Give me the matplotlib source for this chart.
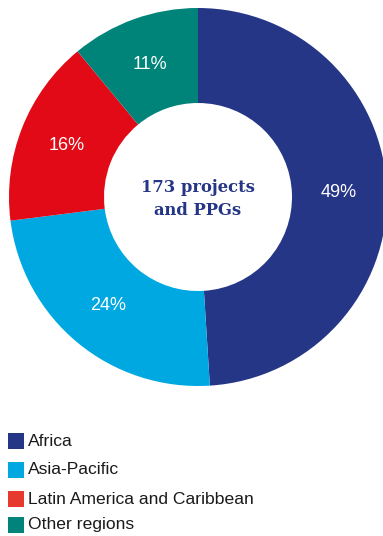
import matplotlib.pyplot as plt
from matplotlib.patches import Rectangle

regions = ["Africa", "Asia-Pacific", "Latin America and Caribbean", "Other regions"]
shares = [49, 24, 16, 11]
ring_colors = ["#263686", "#00A8E1", "#E20A16", "#00847A"]
legend_colors = ["#263686", "#00A8E1", "#E63A2F", "#00847A"]
centre_text = "173 projects\nand PPGs"

fig = plt.figure(figsize=(3.83, 5.36), dpi=100)
ax = fig.add_axes([0, 0, 1, 1])

# work in pixel units so the ring lands where it should
cx, cy, r = 198, 536 - 197, 189
wedges, texts = ax.pie(
    shares,
    colors=ring_colors,
    startangle=90,
    counterclock=False,
    center=(cx, cy),
    radius=r,
    labels=[f"{v}%" for v in shares],
    labeldistance=0.745,
    wedgeprops=dict(width=95, linewidth=0),
    textprops=dict(color="white", fontsize=13, family="Liberation Sans",
                   ha="center", va="center"),
)
for t in texts:
    t.set_horizontalalignment("center")

ax.text(cx, cy - 2, centre_text, ha="center", va="center", color="#263686",
        fontsize=11.8, fontweight="bold", family="DejaVu Serif", linespacing=1.5)

# legend drawn by hand
ys = [441, 470, 499, 525]
for name, col, y in zip(regions, legend_colors, ys):
    ax.add_patch(Rectangle((8, 536 - y - 8), 16, 16, color=col, lw=0))
    ax.text(28, 536 - y, name, ha="left", va="center", fontsize=12.6,
            family="Liberation Sans", color="#1a1a1a")

ax.set_xlim(0, 383)
ax.set_ylim(0, 536)
ax.set_aspect("auto")
ax.axis("off")
fig.savefig("out.png", dpi=100)
